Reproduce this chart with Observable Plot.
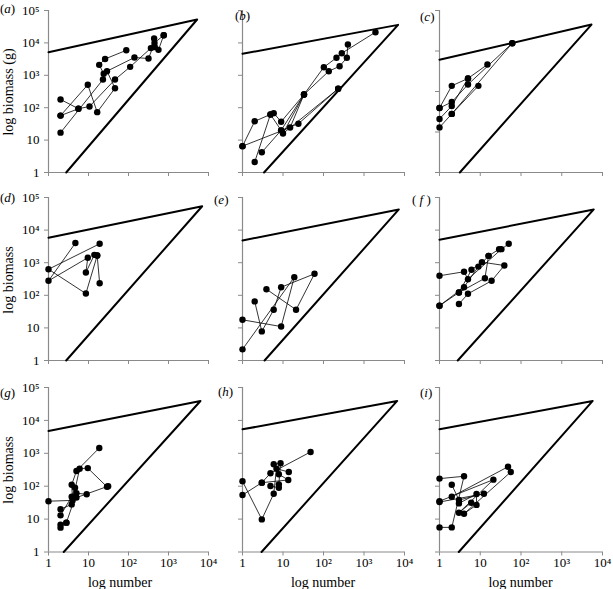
<!DOCTYPE html>
<html><head><meta charset="utf-8">
<script src="https://cdn.jsdelivr.net/npm/d3@7"></script>
<script src="https://cdn.jsdelivr.net/npm/@observablehq/plot@0.6"></script>
<style>
body{margin:0;background:#fff;}
#fig{position:relative;width:613px;height:589px;overflow:hidden;font-family:"Liberation Serif","Times New Roman",serif;color:#000;}
#fig svg{position:absolute;}
.lab{position:absolute;font-size:13px;line-height:1;white-space:nowrap;}
.ylab{position:absolute;font-size:14px;line-height:1;white-space:nowrap;transform:translate(-50%,-50%) rotate(-90deg);}
.xlab{position:absolute;font-size:14px;line-height:1;white-space:nowrap;transform:translate(-50%,-50%);}
</style></head><body><div id="fig"></div>
<script>
// ---- tick values and labels ----
const xTicks = [1, 10, 100, 1000, 10000];
const xTickLabels = ["1", "10", "10²", "10³", "10⁴"];
const yTicks = [1, 10, 100, 1000, 10000, 100000];
const yTickLabels = ["1", "10", "10²", "10³", "10⁴", "10⁵"];
const panelLetters = ["a", "b", "c", "d", "e", "f", "g", "h", "i"];
const yAxisTitles = ["log biomass (g)", "log biomass", "log biomass"];
const xAxisTitle = "log number";
const yMaxByPanel = [1e5, 1e5, 1e4, 1e5, 1e5, 1e5, 1e5, 1e5, 1e5];

// ---- boundary triangle for each panel: [N,B] at left start, apex, lower start ----
const triTopStartB = [5150, 4600, 605, 5800, 4800, 5050, 4760, 5350, 5350];
const triApexN = [5200, 6950, 5370, 6950, 7250, 6100, 6300, 6600, 5750];
const triApexB = [52700, 36000, 4500, 54000, 43000, 43000, 39000, 39000, 39000];
const triLowN = [2.77, 3.4, 3.15, 2.77, 3.5, 2.8, 2.4, 2.95, 2.97];

// ---- trajectories: [number, biomass] ----
const seriesA = [
  [[2,180],[5.6,93],[10.6,109],[46,740],[110,1820],[363,6900],[437,13700]],
  [[2,57],[9.6,510],[16.5,73],[46,400],[29,1340],[141,3540],[316,3300],[447,10000],[760,17300]],
  [[2,17],[23,740],[24,1120],[18.5,2100],[26,3200],[88,5900]],
  [[2,57],[5.6,93]],
  [[456,7400],[562,6100],[760,17300]]
];
const seriesB = [
  [[1,6.5],[2,38],[4.9,62],[5.9,68],[9,37],[33,256],[102,1780],[209,3470],[283,4800],[1920,21400]],
  [[2,2.1],[4.9,62],[9,20],[33,256],[10,16],[230,383]],
  [[1,6.5],[15,24.5],[33,256],[135,1340],[250,1900],[377,3470],[400,8900]],
  [[3,4.2],[9,20],[24,32],[230,383]]
];
const seriesC = [
  [[1,39],[2,138],[5,210],[15,463]],
  [[1,39],[2,55],[5,149],[61,1560]],
  [[1,21],[2,44],[5,210]],
  [[1,13],[2,28],[9,138]],
  [[2,28],[61,1560]]
];
const seriesD = [
  [[4.7,4000],[1,278],[9.6,1420],[8.6,500],[14,1740],[16.5,1660]],
  [[19,3800],[1,630],[8.6,113],[16.5,1660],[19,235]]
];
const seriesE = [
  [[1,17.7],[9,11],[19,360],[1,2.2]],
  [[2,65],[3,7.8],[5.9,36],[9,177],[60,456],[21,36],[3.9,154]]
];
const seriesF = [
  [[1,398],[4,527],[5,311],[33,2600],[50,3800]],
  [[1,48],[4,177],[9,760],[16,1620],[29,2600]],
  [[1,48],[3,122],[6.1,605],[11,1040],[39,820],[19,278],[5,111],[3,54]],
  [[3,122],[13,333],[16,1620]]
];
const seriesG = [
  [[1,35],[4,37],[3.8,111],[5,290],[18.6,1450]],
  [[2,20],[3.8,28],[6,340],[9.6,355],[29,96],[31,100],[5,45]],
  [[2,5.5],[2.8,7.8],[5,61],[9,57]],
  [[2,13],[3.8,48],[4.6,90]],
  [[2,6.8],[2.8,7.8]]
];
const seriesH = [
  [[1,141],[3,9.8],[5.9,59],[6.9,340],[13.9,270]],
  [[1,54],[3,128],[4.9,247],[48,1100]],
  [[3,128],[13.5,155],[7.9,230],[5.9,465],[8.7,500],[7.9,114],[7.9,90],[4.9,101]]
];
const seriesI = [
  [[1,170],[4,200],[2,5.6],[1,5.6]],
  [[1,35],[21,158],[3,15.6],[6,31.5]],
  [[1,33],[12.3,59],[3,38],[2,111]],
  [[2,48],[48,390],[56,270],[4,14.6],[8.1,27],[8.1,58],[3,30]]
];
const panelSeries = [seriesA, seriesB, seriesC, seriesD, seriesE, seriesF, seriesG, seriesH, seriesI];

// ---- layout ----
const colX0 = [48, 242, 439], colX1 = [208, 404, 602];
const rowY0 = [10, 197, 386.5], rowY1 = [172, 360, 551];
const M = {l: 48, r: 8, t: 8, b: 30};
const letterPos = [[0,8],[235,15],[420,16],[0,197],[214,199],[412,199],[0,392],[218,391],[420,392]];
const fig = document.getElementById("fig");

panelSeries.forEach((series, idx) => {
  const col = idx % 3, row = Math.floor(idx / 3);
  const x0 = colX0[col], x1 = colX1[col], y0 = rowY0[row], y1 = rowY1[row];
  const rows = [];
  series.forEach((s, si) => s.forEach(([N, B]) => rows.push({N, B, s: si})));
  const tri = [
    {N: 1, B: triTopStartB[idx]},
    {N: triApexN[idx], B: triApexB[idx]},
    {N: triLowN[idx], B: 1}
  ];
  const yMax = yMaxByPanel[idx];
  const yt = yTicks.filter(v => v <= yMax);
  const showX = row === 2, showY = col === 0;
  const svg = Plot.plot({
    width: x1 - x0 + M.l + M.r,
    height: y1 - y0 + M.t + M.b,
    marginLeft: M.l, marginRight: M.r, marginTop: M.t, marginBottom: M.b,
    x: {type: "log", domain: [1, 1e4]},
    y: {type: "log", domain: [1, yMax]},
    style: {background: "none", overflow: "visible", fontFamily: "Liberation Serif, Times New Roman, serif", fontSize: "13px", color: "black"},
    marks: [
      Plot.axisX({ticks: xTicks, tickSize: 4, tickPadding: 2, stroke: "#8a8a8a", fill: "black", label: null,
        tickFormat: d => showX ? xTickLabels[xTicks.indexOf(d)] : ""}),
      Plot.axisY({ticks: yt, tickSize: 4, tickPadding: 5, stroke: "#8a8a8a", fill: "black", label: null,
        tickFormat: d => showY ? yTickLabels[yTicks.indexOf(d)] : ""}),
      Plot.ruleX([1], {stroke: "#8a8a8a", strokeWidth: 1.2}),
      Plot.ruleY([1], {stroke: "#8a8a8a", strokeWidth: 1.2}),
      Plot.line(tri, {x: "N", y: "B", stroke: "black", strokeWidth: 2}),
      Plot.line(rows, {x: "N", y: "B", z: "s", stroke: "black", strokeWidth: 0.8}),
      Plot.dot(rows, {x: "N", y: "B", r: 3.2, fill: "black", stroke: "none"})
    ]
  });
  svg.style.left = (x0 - M.l) + "px";
  svg.style.top = (y0 - M.t) + "px";
  fig.appendChild(svg);

  const lab = document.createElement("div");
  lab.className = "lab";
  const L = panelLetters[idx];
  lab.innerHTML = L === "f" ? "(<i> f </i>)" : "(<i>" + L + "</i>)";
  lab.style.left = letterPos[idx][0] + "px";
  lab.style.top = (letterPos[idx][1] - 6.5) + "px";
  fig.appendChild(lab);
});

[0, 1, 2].forEach(r => {
  const d = document.createElement("div");
  d.className = "ylab";
  d.textContent = yAxisTitles[r];
  d.style.left = "9px";
  d.style.top = ((rowY0[r] + rowY1[r]) / 2 + 1) + "px";
  fig.appendChild(d);
});
[0, 1, 2].forEach(c => {
  const d = document.createElement("div");
  d.className = "xlab";
  d.textContent = xAxisTitle;
  d.style.left = ((colX0[c] + colX1[c]) / 2 - (c === 0 ? 8 : 0)) + "px";
  d.style.top = "583px";
  fig.appendChild(d);
});
</script>
</body></html>
